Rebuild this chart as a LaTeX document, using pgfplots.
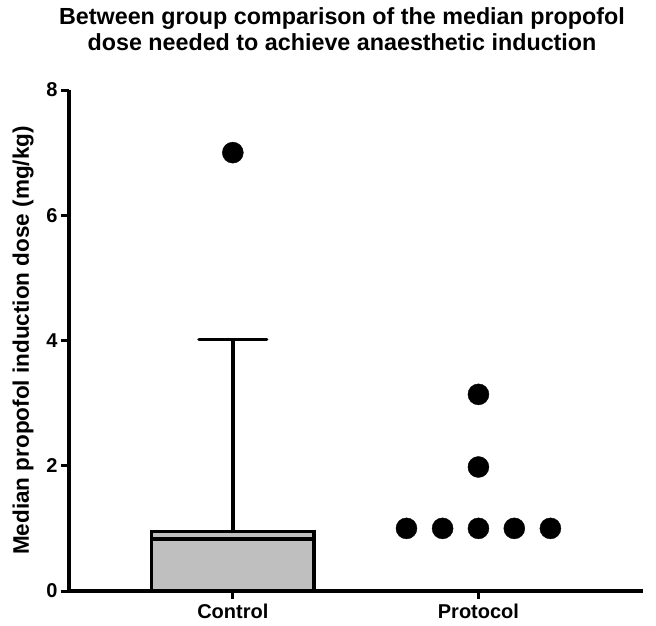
\documentclass[border=0pt]{standalone}
\usepackage{fontspec}
\setmainfont{Liberation Sans}
\usepackage{pgfplots}
\pgfplotsset{compat=1.18}
\definecolor{boxgray}{RGB}{191,191,191}
\begin{document}
\begin{tikzpicture}
\begin{axis}[
 name=a,
 scale only axis, width=574pt, height=501pt,
 xmin=0.333, xmax=2.67, ymin=0, ymax=8,
 axis x line*=bottom, axis y line*=left,
 axis line style={line width=3.6pt, -},
 ytick={0,2,4,6,8}, xtick={1,2}, xticklabels={Control,Protocol},
 tick style={line width=3pt, black},
 major tick length=8pt, tick align=outside,
 ticklabel style={font=\fontsize{20}{24}\selectfont\bfseries},
 xticklabel style={yshift=-1pt},
 /pgf/number format/assume math mode=true,
 ylabel={Median propofol induction dose (mg/kg)},
 ylabel style={font=\fontsize{22.5}{26}\selectfont\bfseries, at={(axis description cs:0,0.5)}, anchor=center, yshift=46pt},
 title={Between group comparison of the median propofol\\dose needed to achieve anaesthetic induction},
 title style={font=\fontsize{23.3}{26}\selectfont\bfseries, align=center, at={(axis description cs:0.5,1)}, anchor=south, yshift=30pt, xshift=-14pt},
 clip=false,
]
% Control box (0 to upper quartile)
\addplot[fill=boxgray, draw=black, line width=3.6pt] coordinates {(0.669,0) (1.331,0) (1.331,0.95) (0.669,0.95)} -- cycle;
% median
\addplot[black, line width=3.4pt] coordinates {(0.669,0.83) (1.331,0.83)};
% whisker
\addplot[black, line width=3.4pt] coordinates {(1,0.95) (1,4.02)};
\addplot[black, line width=3.4pt, line cap=round] coordinates {(0.862,4.02) (1.138,4.02)};
% outlier
\addplot[only marks, mark=*, mark size=10.5pt, black] coordinates {(1,7.0)};
% Protocol points
\addplot[only marks, mark=*, mark size=10.5pt, black] coordinates {
 (1.707,1.0) (1.854,1.0) (2.0,1.0) (2.146,1.0) (2.293,1.0) (2.0,1.98) (2.0,3.14)};
\end{axis}
\path (a.south west) ++(-69pt,-34pt) rectangle ++(656pt,625pt);
\end{tikzpicture}
\end{document}
